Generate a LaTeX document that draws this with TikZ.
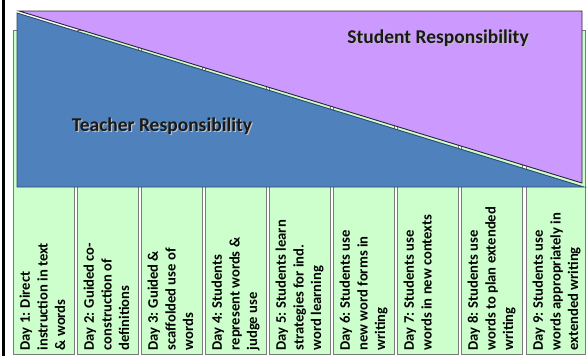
\documentclass[tikz,border=0pt]{standalone}
\usepackage{fontspec}
\setmainfont{Carlito}
\definecolor{dayGreen}{HTML}{CCFFCC}
\definecolor{boxgray}{HTML}{7A7A7A}
\definecolor{teachBlue}{HTML}{4F81BD}
\definecolor{teachEdge}{HTML}{2E4A6E}
\definecolor{studPurple}{HTML}{CC99FF}
\definecolor{studEdge}{HTML}{2B2233}
\tikzset{
  daybox/.style={draw=boxgray, line width=1.3pt, fill=dayGreen, inner sep=0pt,
    minimum width=61pt, minimum height=324pt, anchor=north west},
  daytext/.style={rotate=90, anchor=north west, inner sep=0pt, align=left,
    font=\bfseries\fontsize{14.6}{17.6}\selectfont, text=black},
  titletext/.style={font=\bfseries\fontsize{19.5}{23}\selectfont, inner sep=0pt, anchor=base, text=black!90},
  titleshadow/.style={titletext, text=white!75!black},
}
\begin{document}
\begin{tikzpicture}[x=1pt,y=-1pt]
\useasboundingbox (0,0) rectangle (587,356);
% left frame line
\draw[line width=3pt, black] (3.5,0) -- (3.5,356);
% day boxes
\node[daybox] (box1) at (13,30) {};
\node[daybox] (box2) at (77,30) {};
\node[daybox] (box3) at (141,30) {};
\node[daybox] (box4) at (205,30) {};
\node[daybox] (box5) at (269,30) {};
\node[daybox] (box6) at (333,30) {};
\node[daybox] (box7) at (397,30) {};
\node[daybox] (box8) at (461,30) {};
\node[daybox, minimum width=59pt] (box9) at (526,30) {};
% responsibility triangles
\filldraw[fill=teachBlue, draw=teachEdge, line width=0.9pt, line join=miter]
  (17,13) -- (584,187) -- (17,187) -- cycle;
\filldraw[fill=studPurple, draw=studEdge, line width=0.9pt, line join=miter]
  (19,11) -- (582,11) -- (582,183) -- cycle;
% titles
\node[titleshadow] (studshadow) at (439.2,44.2) {Student Responsibility};
\node[titletext] (student) at (438,43) {Student Responsibility};
\node[titleshadow] (teachshadow) at (163.2,132.2) {Teacher Responsibility};
\node[titletext] (teacher) at (162,131) {Teacher Responsibility};
% day texts
\node[daytext] (t1) at (19.5,350.5) {Day 1: Direct\\instruction in text\\\& words};
\node[daytext] (t2) at (83.5,350.5) {Day 2: Guided co-\\construction of\\definitions};
\node[daytext] (t3) at (147.5,350.5) {Day 3: Guided \&\\scaffolded use of\\words};
\node[daytext] (t4) at (211.5,350.5) {Day 4: Students\\represent words \&\\judge use};
\node[daytext] (t5) at (275.5,350.5) {Day 5: Students learn\\strategies for ind.\\word learning};
\node[daytext] (t6) at (339.5,350.5) {Day 6: Students use\\new word forms in\\writing};
\node[daytext] (t7) at (403.5,350.5) {Day 7: Students use\\words in new contexts};
\node[daytext] (t8) at (467.5,350.5) {Day 8: Students use\\words to plan extended\\writing};
\node[daytext] (t9) at (532.5,350.5) {Day 9: Students use\\words appropriately in\\extended writing};
\end{tikzpicture}
\end{document}
